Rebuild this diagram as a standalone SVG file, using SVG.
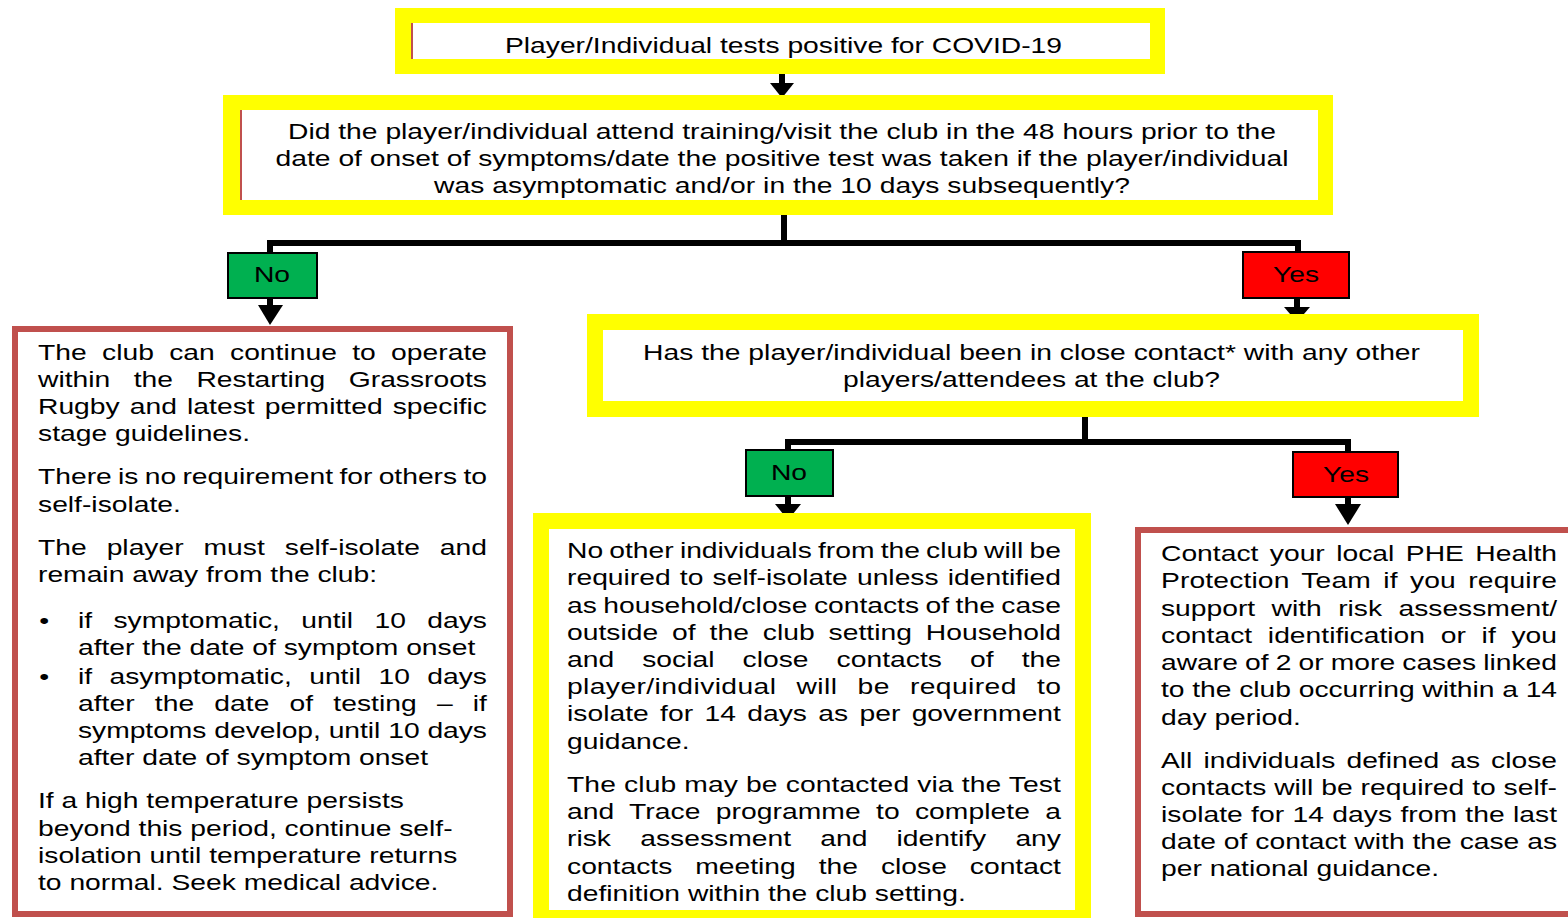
<svg xmlns="http://www.w3.org/2000/svg" width="1568" height="918" viewBox="0 0 1568 918">
<style>
text{font-family:"Liberation Sans",Arial,sans-serif;font-size:22px;fill:#000}
.c{text-anchor:middle}
.yb{fill:#FFFF00}
.wb{fill:#FFFFFF}
.rb{fill:#FFFFFF;stroke:#C0504D;stroke-width:6}
.no{fill:#00B050;stroke:#000;stroke-width:2}
.yes{fill:#FF0000;stroke:#000;stroke-width:2}
.ln{fill:none;stroke:#000;stroke-width:6;stroke-linejoin:miter}
.ah{fill:#000}
.tl{stroke:#C0504D;stroke-width:2}
</style>
<rect width="1568" height="918" fill="#FFFFFF"/>
<g id="connectors">
<path class="ln" d="M782,74 V85"/>
<polygon class="ah" points="770,83 794,83 782,98"/>
<path class="ln" d="M784,215 V243"/>
<path class="ln" d="M270,253 V243 H1298 V253"/>
<path class="ln" d="M270,298 V306"/>
<polygon class="ah" points="258,305 283,305 270,325"/>
<path class="ln" d="M1297,298 V308"/>
<polygon class="ah" points="1284,307 1310,307 1297,322"/>
<path class="ln" d="M1085,416 V442"/>
<path class="ln" d="M788,450 V442 H1348 V453"/>
<path class="ln" d="M788,497 V505"/>
<polygon class="ah" points="775,504 801,504 788,520"/>
<path class="ln" d="M1348,498 V505"/>
<polygon class="ah" points="1335,504 1361,504 1348,525"/>
</g>
<g id="start">
<rect class="yb" x="395" y="8" width="770" height="66"/>
<rect class="wb" x="411" y="23" width="739" height="36"/>
<line class="tl" x1="412" y1="23" x2="412" y2="59"/>
<g transform="translate(783.5 0) scale(1.285 1)"><text class="c" x="0" y="53" textLength="433.5" lengthAdjust="spacing">Player/Individual tests positive for COVID-19</text></g>
</g>
<g id="q1">
<rect class="yb" x="223" y="95" width="1110" height="120"/>
<rect class="wb" x="240" y="110" width="1078" height="90"/>
<line class="tl" x1="241" y1="110" x2="241" y2="200"/>
<g transform="translate(782 0) scale(1.285 1)">
<text class="c" x="0" y="139" textLength="768.9" lengthAdjust="spacing">Did the player/individual attend training/visit the club in the 48 hours prior to the</text>
<text class="c" x="0" y="166" textLength="788.3" lengthAdjust="spacing">date of onset of symptoms/date the positive test was taken if the player/individual</text>
<text class="c" x="0" y="193" textLength="541.6" lengthAdjust="spacing">was asymptomatic and/or in the 10 days subsequently?</text>
</g>
</g>
<g id="no1">
<rect class="no" x="228" y="253" width="89" height="45"/>
<g transform="translate(272 0) scale(1.285 1)"><text class="c" x="0" y="282">No</text></g>
</g>
<g id="yes1">
<rect class="yes" x="1243" y="252" width="106" height="46"/>
<g transform="translate(1296 0) scale(1.285 1)"><text class="c" x="0" y="282">Yes</text></g>
</g>
<g id="outcome-no">
<rect class="rb" x="15" y="329" width="495" height="585"/>
<g transform="translate(38 0) scale(1.285 1)">
<text x="0" y="360" word-spacing="5.8" textLength="349.4" lengthAdjust="spacing">The club can continue to operate</text>
<text x="0" y="387" word-spacing="12.1" textLength="349.4" lengthAdjust="spacing">within the Restarting Grassroots</text>
<text x="0" y="414" word-spacing="1.75" textLength="349.4" lengthAdjust="spacing">Rugby and latest permitted specific</text>
<text x="0" y="441">stage guidelines.</text>
<text x="0" y="484" word-spacing="-1.2" textLength="349.4" lengthAdjust="spacing">There is no requirement for others to</text>
<text x="0" y="512">self-isolate.</text>
<text x="0" y="555" word-spacing="9.4" textLength="349.4" lengthAdjust="spacing">The player must self-isolate and</text>
<text x="0" y="582">remain away from the club:</text>
<text x="1" y="628">•</text>
<text x="31.1" y="628" word-spacing="10.5" textLength="318.3" lengthAdjust="spacing">if symptomatic, until 10 days</text>
<text x="31.1" y="655">after the date of symptom onset</text>
<text x="1" y="684">•</text>
<text x="31.1" y="684" word-spacing="7.4" textLength="318.3" lengthAdjust="spacing">if asymptomatic, until 10 days</text>
<text x="31.1" y="711" word-spacing="9.6" textLength="318.3" lengthAdjust="spacing">after the date of testing – if</text>
<text x="31.1" y="738" textLength="318.3" lengthAdjust="spacing">symptoms develop, until 10 days</text>
<text x="31.1" y="765">after date of symptom onset</text>
<text x="0" y="808">If a high temperature persists</text>
<text x="0" y="836">beyond this period, continue self-</text>
<text x="0" y="863">isolation until temperature returns</text>
<text x="0" y="890">to normal. Seek medical advice.</text>
</g>
</g>
<g id="q2">
<rect class="yb" x="587" y="314" width="892" height="103"/>
<rect class="wb" x="603" y="330" width="860" height="71"/>
<g transform="translate(1031.5 0) scale(1.285 1)">
<text class="c" x="0" y="360" textLength="604.7" lengthAdjust="spacing">Has the player/individual been in close contact* with any other</text>
<text class="c" x="0" y="387" textLength="293.4" lengthAdjust="spacing">players/attendees at the club?</text>
</g>
</g>
<g id="no2">
<rect class="no" x="746" y="450" width="87" height="46"/>
<g transform="translate(789 0) scale(1.285 1)"><text class="c" x="0" y="480">No</text></g>
</g>
<g id="yes2">
<rect class="yes" x="1293" y="452" width="105" height="45"/>
<g transform="translate(1346 0) scale(1.285 1)"><text class="c" x="0" y="482">Yes</text></g>
</g>
<g id="outcome-no-contact">
<rect class="yb" x="533" y="513" width="558" height="405"/>
<rect class="wb" x="549" y="529" width="526" height="381"/>
<g transform="translate(567 0) scale(1.285 1)">
<text x="0" y="558" word-spacing="-1.3" textLength="384.4" lengthAdjust="spacing">No other individuals from the club will be</text>
<text x="0" y="585" word-spacing="1.0" textLength="384.4" lengthAdjust="spacing">required to self-isolate unless identified</text>
<text x="0" y="613" word-spacing="-1.1" textLength="384.4" lengthAdjust="spacing">as household/close contacts of the case</text>
<text x="0" y="640" word-spacing="4.7" textLength="384.4" lengthAdjust="spacing">outside of the club setting Household</text>
<text x="0" y="667" word-spacing="15.7" textLength="384.4" lengthAdjust="spacing">and social close contacts of the</text>
<text x="0" y="694" word-spacing="9.3" textLength="384.4" lengthAdjust="spacing">player/individual will be required to</text>
<text x="0" y="721" word-spacing="2.7" textLength="384.4" lengthAdjust="spacing">isolate for 14 days as per government</text>
<text x="0" y="749">guidance.</text>
<text x="0" y="792" textLength="384.4" lengthAdjust="spacing">The club may be contacted via the Test</text>
<text x="0" y="819" word-spacing="5.7" textLength="384.4" lengthAdjust="spacing">and Trace programme to complete a</text>
<text x="0" y="846" word-spacing="16.6" textLength="384.4" lengthAdjust="spacing">risk assessment and identify any</text>
<text x="0" y="874" word-spacing="11.7" textLength="384.4" lengthAdjust="spacing">contacts meeting the close contact</text>
<text x="0" y="901">definition within the club setting.</text>
</g>
</g>
<g id="outcome-contact">
<rect class="rb" x="1138" y="530" width="440" height="384"/>
<g transform="translate(1161 0) scale(1.285 1)">
<text x="0" y="561" word-spacing="2.8" textLength="308.2" lengthAdjust="spacing">Contact your local PHE Health</text>
<text x="0" y="588" word-spacing="3.4" textLength="308.2" lengthAdjust="spacing">Protection Team if you require</text>
<text x="0" y="616" word-spacing="6.6" textLength="308.2" lengthAdjust="spacing">support with risk assessment/</text>
<text x="0" y="643" word-spacing="6.1" textLength="308.2" lengthAdjust="spacing">contact identification or if you</text>
<text x="0" y="670" word-spacing="-0.6" textLength="308.2" lengthAdjust="spacing">aware of 2 or more cases linked</text>
<text x="0" y="697" textLength="308.2" lengthAdjust="spacing">to the club occurring within a 14</text>
<text x="0" y="725">day period.</text>
<text x="0" y="768" word-spacing="2.5" textLength="308.2" lengthAdjust="spacing">All individuals defined as close</text>
<text x="0" y="795" textLength="308.2" lengthAdjust="spacing">contacts will be required to self-</text>
<text x="0" y="822" word-spacing="0.4" textLength="308.2" lengthAdjust="spacing">isolate for 14 days from the last</text>
<text x="0" y="849" textLength="308.2" lengthAdjust="spacing">date of contact with the case as</text>
<text x="0" y="876">per national guidance.</text>
</g>
</g>
</svg>
